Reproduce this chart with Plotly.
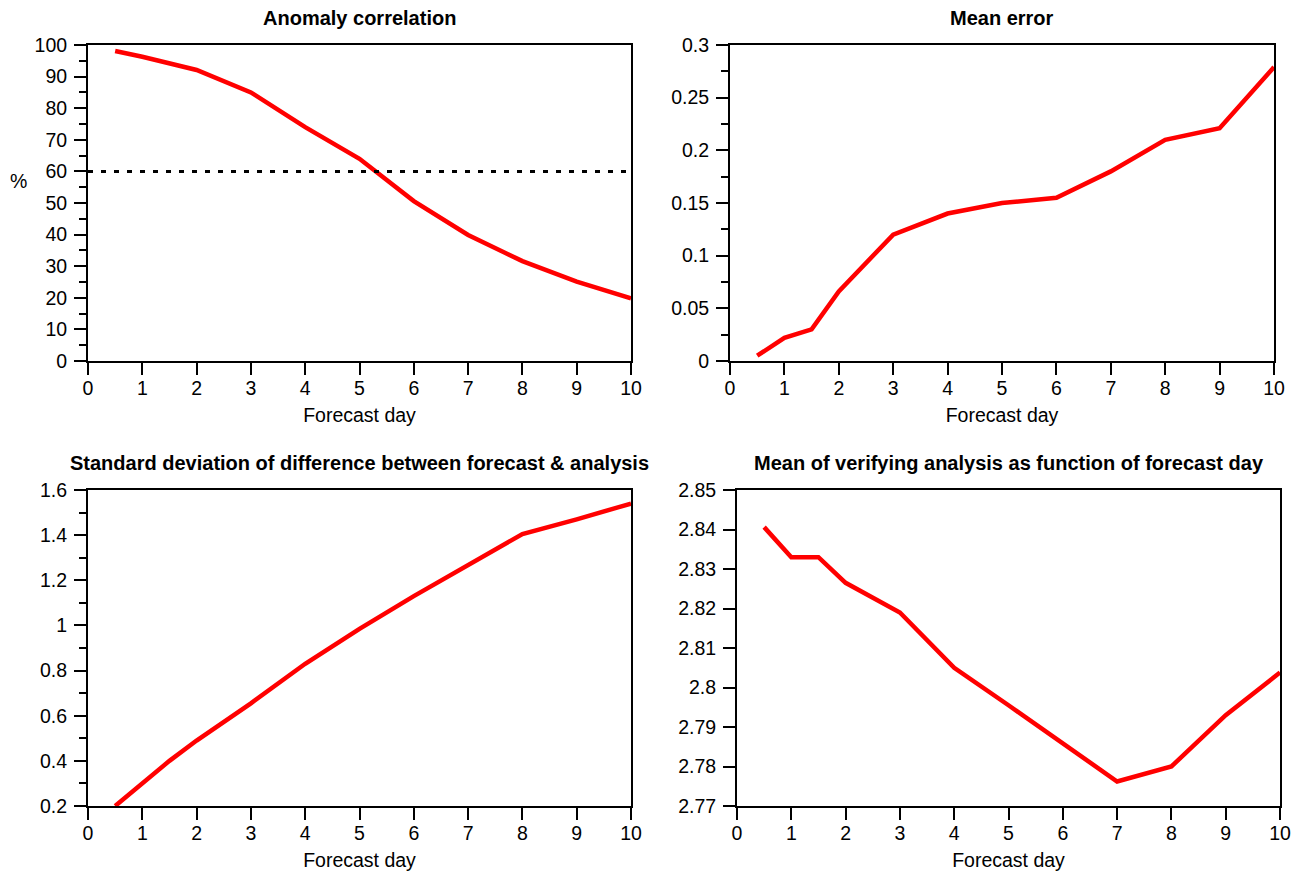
import plotly.graph_objects as go

# ---- data ----
days_ac = [0.5, 1, 2, 3, 4, 5, 6, 7, 8, 9, 10]
anom_corr = [98.1, 96.3, 92.1, 85.0, 74.0, 64.0, 50.6, 39.9, 31.6, 25.1, 19.8]
ac_threshold = 60

days_me = [0.5, 1, 1.5, 2, 3, 4, 5, 6, 7, 8, 9, 10]
mean_error = [0.005, 0.022, 0.030, 0.066, 0.120, 0.140, 0.150, 0.155, 0.180, 0.210, 0.221, 0.279]

days_sd = [0.5, 1, 1.5, 2, 3, 4, 5, 6, 7, 8, 9, 10]
std_dev = [0.20, 0.30, 0.40, 0.49, 0.655, 0.83, 0.985, 1.13, 1.265, 1.405, 1.47, 1.54]

days_mv = [0.5, 1, 1.5, 2, 3, 4, 5, 6, 7, 8, 9, 10]
mean_verif = [2.8406, 2.833, 2.833, 2.8265, 2.819, 2.805, 2.7955, 2.786, 2.7762, 2.780, 2.793, 2.8038]

x_ticks = list(range(0, 11))
ac_ticks = list(range(0, 101, 10))
me_ticks = [0, 0.05, 0.1, 0.15, 0.2, 0.25, 0.3]
me_labels = ["0", "0.05", "0.1", "0.15", "0.2", "0.25", "0.3"]
sd_ticks = [0.2, 0.4, 0.6, 0.8, 1.0, 1.2, 1.4, 1.6]
sd_labels = ["0.2", "0.4", "0.6", "0.8", "1", "1.2", "1.4", "1.6"]
mv_ticks = [2.77, 2.78, 2.79, 2.80, 2.81, 2.82, 2.83, 2.84, 2.85]
mv_labels = ["2.77", "2.78", "2.79", "2.8", "2.81", "2.82", "2.83", "2.84", "2.85"]

titles = ["Anomaly correlation", "Mean error",
          "Standard deviation of difference between forecast & analysis",
          "Mean of verifying analysis as function of forecast day"]
x_title = "Forecast day"

# body margin is removed by a small post script, so the figure fills the window
W, H = 1296, 873
FONT = "Liberation Sans, Arial, sans-serif"
RED = "#ff0000"

def px_x(a, b):
    return [a / W, b / W]

def px_y(top, bottom):
    return [1 - bottom / H, 1 - top / H]

def pt(x, y):
    return x / W, 1 - y / H

fig = go.Figure()

line_style = dict(color=RED, width=4.5)
fig.add_trace(go.Scatter(x=days_ac, y=anom_corr, mode="lines", line=line_style, xaxis="x", yaxis="y"))
fig.add_trace(go.Scatter(x=[0, 10], y=[ac_threshold, ac_threshold], mode="lines",
                         line=dict(color="black", width=3, dash="5px,8px"), xaxis="x", yaxis="y"))
fig.add_trace(go.Scatter(x=days_me, y=mean_error, mode="lines", line=line_style, xaxis="x2", yaxis="y2"))
fig.add_trace(go.Scatter(x=days_sd, y=std_dev, mode="lines", line=line_style, xaxis="x3", yaxis="y3"))
fig.add_trace(go.Scatter(x=days_mv, y=mean_verif, mode="lines", line=line_style, xaxis="x4", yaxis="y4"))

tickfont = dict(family=FONT, size=19.5, color="black")

def xax(domain, anchor):
    return dict(domain=domain, anchor=anchor, range=[0, 10], tickvals=x_ticks,
                ticks="outside", ticklen=12, tickwidth=2, tickcolor="black",
                showline=True, linewidth=2, linecolor="black", mirror=True, automargin=False,
                showgrid=False, zeroline=False, tickfont=tickfont, ticklabelstandoff=-3,
                title=dict(text=x_title, font=tickfont, standoff=10))

def yax(domain, anchor, rng, tv, tt, minor_dtick):
    d = dict(domain=domain, anchor=anchor, range=rng, tickvals=tv, ticktext=tt,
             ticks="outside", ticklen=12, tickwidth=2, tickcolor="black",
             showline=True, linewidth=2, linecolor="black", mirror=True, automargin=False,
             showgrid=False, zeroline=False, tickfont=tickfont, ticklabelstandoff=3)
    if minor_dtick:
        d["minor"] = dict(dtick=minor_dtick, ticks="outside", ticklen=7, tickwidth=2,
                          tickcolor="black", showgrid=False)
    return d

top = px_y(45, 361)
bot = px_y(490, 806)

fig.update_layout(
    width=W, height=H, margin=dict(l=0, r=0, t=0, b=0, autoexpand=False),
    paper_bgcolor="white", plot_bgcolor="white", showlegend=False, hovermode=False,
    font=dict(family=FONT, color="black"),
    xaxis=xax(px_x(88, 631), "y"),
    yaxis=yax(top, "x", [0, 100], ac_ticks, [str(v) for v in ac_ticks], 5),
    xaxis2=xax(px_x(730, 1274), "y2"),
    yaxis2=yax(top, "x2", [0, 0.3], me_ticks, me_labels, 0.025),
    xaxis3=xax(px_x(88, 631), "y3"),
    yaxis3=yax(bot, "x3", [0.2, 1.6], sd_ticks, sd_labels, 0.1),
    xaxis4=xax(px_x(737, 1280), "y4"),
    yaxis4=yax(bot, "x4", [2.77, 2.85], mv_ticks, mv_labels, None),
)

title_font = dict(family=FONT, size=20, color="black")
centers = [((88 + 631) / 2, 18), ((730 + 1274) / 2, 18), ((88 + 631) / 2, 463), ((737 + 1280) / 2, 463)]
for t, (cx, cy) in zip(titles, centers):
    ax_, ay_ = pt(cx, cy)
    fig.add_annotation(text="<b>%s</b>" % t, x=ax_, y=ay_, xref="paper", yref="paper",
                       xanchor="center", yanchor="middle", showarrow=False, font=title_font)

px_, py_ = pt(18, 181)
fig.add_annotation(text="%", x=px_, y=py_, xref="paper", yref="paper",
                   xanchor="center", yanchor="middle", showarrow=False,
                   font=dict(family=FONT, size=19.5, color="black"))

fig.write_html("out.html", config={"displayModeBar": False},
               post_script="document.body.style.margin='0px';document.body.style.overflow='hidden';")
